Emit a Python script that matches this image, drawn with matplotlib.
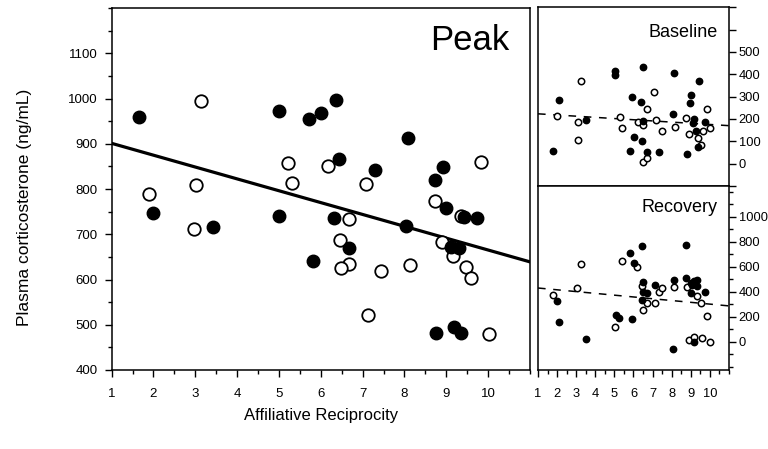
import numpy as np
import matplotlib
matplotlib.use("Agg")
import matplotlib.pyplot as plt
from matplotlib.ticker import MultipleLocator, FixedLocator

plt.rcParams['font.family'] = ['Liberation Sans', 'DejaVu Sans']

# --- peak (main panel) ------------------------------------------------------
peak_filled_x = [1.65, 2.0, 3.43, 5.0, 5.0, 5.72, 5.82, 6.01, 6.36, 6.43, 6.32, 6.67, 7.30,
                 8.09, 8.03, 8.72, 8.93, 9.0, 9.43, 9.73, 9.11, 9.30, 8.75, 9.18, 9.36]
peak_filled_y = [960, 747, 717, 973, 741, 954, 641, 969, 997, 867, 737, 670, 843,
                 913, 718, 820, 848, 757, 739, 737, 671, 670, 481, 496, 481]
peak_open_x = [1.90, 3.01, 2.98, 3.14, 5.21, 5.31, 6.18, 7.08, 9.83, 8.72, 9.35, 6.67,
               6.46, 6.68, 6.49, 7.43, 8.14, 8.89, 9.16, 9.48, 9.60, 7.12, 10.01]
peak_open_y = [790, 808, 711, 994, 857, 814, 851, 812, 860, 774, 741, 734,
               687, 634, 625, 619, 631, 684, 653, 628, 604, 521, 479]
peak_fit_x = [1, 11]
peak_fit_y = [901, 639]

# --- baseline ---------------------------------------------------------------
base_filled_x = [1.77, 2.12, 3.51, 5.03, 5.03, 5.82, 5.91, 6.04, 6.38, 6.43, 6.48, 6.52, 6.72,
                 7.35, 8.05, 8.12, 8.78, 8.96, 9.01, 9.13, 9.18, 9.27, 9.36, 9.45, 9.74]
base_filled_y = [57, 283, 196, 414, 395, 58, 300, 118, 275, 100, 432, 193, 51,
                 51, 220, 405, 45, 272, 309, 181, 200, 148, 76, 372, 185]
base_open_x = [2.01, 3.08, 3.08, 3.25, 5.29, 5.38, 6.22, 6.52, 6.72, 7.09, 7.18, 7.48,
               8.17, 8.75, 8.92, 9.39, 9.52, 9.62, 9.86, 10.0, 6.51, 6.69]
base_open_y = [215, 188, 106, 368, 208, 158, 185, 173, 245, 320, 197, 148,
               166, 205, 133, 115, 82, 148, 245, 160, 6, 24]
base_fit_x = [1, 11]
base_fit_y = [223, 170]

# --- recovery ---------------------------------------------------------------
rec_filled_x = [2.01, 2.12, 3.51, 5.08, 5.26, 5.82, 5.91, 6.04, 6.43, 6.51, 6.51, 6.72, 6.46,
                7.13, 8.12, 8.05, 8.73, 8.73, 9.0, 9.18, 9.31, 9.06, 9.34, 9.01, 9.74, 9.18]
rec_filled_y = [328, 160, 19, 214, 187, 707, 179, 627, 766, 480, 400, 392, 334,
                454, 494, -60, 774, 512, 472, 488, 494, 454, 446, 392, 398, -5]
rec_open_x = [1.77, 3.06, 3.24, 5.03, 5.38, 6.20, 6.43, 6.51, 6.72, 7.13, 7.35, 7.48,
              8.14, 8.79, 9.34, 9.52, 9.87, 8.92, 9.18, 9.60, 10.0]
rec_open_y = [374, 427, 620, 120, 646, 595, 446, 254, 307, 312, 400, 427,
              435, 440, 366, 312, 206, 14, 40, 27, 0]
rec_fit_x = [1, 11]
rec_fit_y = [430, 287]

fig = plt.figure(figsize=(7.68, 4.49), dpi=100)
ax = fig.add_axes([0.1454, 0.176, 0.5446, 0.806])
ax_b = fig.add_axes([0.7005, 0.5857, 0.2487, 0.3983])
ax_r = fig.add_axes([0.7005, 0.176, 0.2487, 0.4097])

# main panel
ax.plot(peak_open_x, peak_open_y, 'o', ms=9, mfc='white', mec='black', mew=1.3, zorder=3)
ax.plot(peak_filled_x, peak_filled_y, 'o', ms=9, mfc='black', mec='black', zorder=4)
ax.plot(peak_fit_x, peak_fit_y, '-', color='black', lw=2.3, zorder=2)
ax.set_xlim(1, 11)
ax.set_ylim(400, 1200)
ax.xaxis.set_major_locator(FixedLocator(range(1, 11)))
ax.xaxis.set_minor_locator(MultipleLocator(0.5))
ax.yaxis.set_major_locator(FixedLocator(range(400, 1101, 100)))
ax.yaxis.set_minor_locator(MultipleLocator(50))
ax.tick_params(which='major', direction='out', length=5, width=1, labelsize=9.5, pad=5)
ax.tick_params(which='minor', direction='out', length=3, width=1)
ax.tick_params(axis='x', pad=8)
ax.set_xlabel('Affiliative Reciprocity', fontsize=12)
ax.set_ylabel('Plasma corticosterone (ng/mL)', fontsize=12.5)
ax.xaxis.set_label_coords(0.5, -0.105)
ax.yaxis.set_label_coords(-0.19, 0.45)
ax.text(0.952, 0.955, 'Peak', transform=ax.transAxes, ha='right', va='top', fontsize=25)

# baseline panel
ax_b.plot(base_open_x, base_open_y, 'o', ms=4.6, mfc='white', mec='black', mew=1.1, zorder=3)
ax_b.plot(base_filled_x, base_filled_y, 'o', ms=4.6, mfc='black', mec='black', zorder=4)
ax_b.plot(base_fit_x, base_fit_y, '--', color='black', lw=1.1, dashes=(5, 5), zorder=2)
ax_b.set_xlim(1, 11)
ax_b.set_ylim(-100, 700)
ax_b.set_xticks([])
ax_b.yaxis.tick_right()
ax_b.yaxis.set_major_locator(FixedLocator(range(0, 501, 100)))
ax_b.yaxis.set_minor_locator(FixedLocator([-100, 600, 700]))
ax_b.tick_params(which='major', direction='out', length=5, width=1, labelsize=9.3, pad=2)
ax_b.tick_params(which='minor', direction='out', length=5, width=1)
ax_b.text(0.94, 0.905, 'Baseline', transform=ax_b.transAxes, ha='right', va='top', fontsize=13)

# recovery panel
ax_r.plot(rec_open_x, rec_open_y, 'o', ms=4.6, mfc='white', mec='black', mew=1.1, zorder=3)
ax_r.plot(rec_filled_x, rec_filled_y, 'o', ms=4.6, mfc='black', mec='black', zorder=4)
ax_r.plot(rec_fit_x, rec_fit_y, '--', color='black', lw=1.1, dashes=(5, 5), zorder=2)
ax_r.set_xlim(1, 11)
ax_r.set_ylim(-225, 1245)
ax_r.yaxis.tick_right()
ax_r.xaxis.set_major_locator(FixedLocator(range(1, 11)))
ax_r.xaxis.set_minor_locator(MultipleLocator(0.5))
ax_r.yaxis.set_major_locator(FixedLocator(range(0, 1001, 200)))
ax_r.yaxis.set_minor_locator(MultipleLocator(100))
ax_r.tick_params(which='major', direction='out', length=5, width=1, labelsize=9.3, pad=2)
ax_r.tick_params(which='minor', direction='out', length=3, width=1)
ax_r.tick_params(axis='x', pad=8)
ax_r.text(0.94, 0.93, 'Recovery', transform=ax_r.transAxes, ha='right', va='top', fontsize=13)

for a in (ax, ax_b, ax_r):
    for s in a.spines.values():
        s.set_linewidth(1.1)

fig.savefig('out.png', dpi=100)
